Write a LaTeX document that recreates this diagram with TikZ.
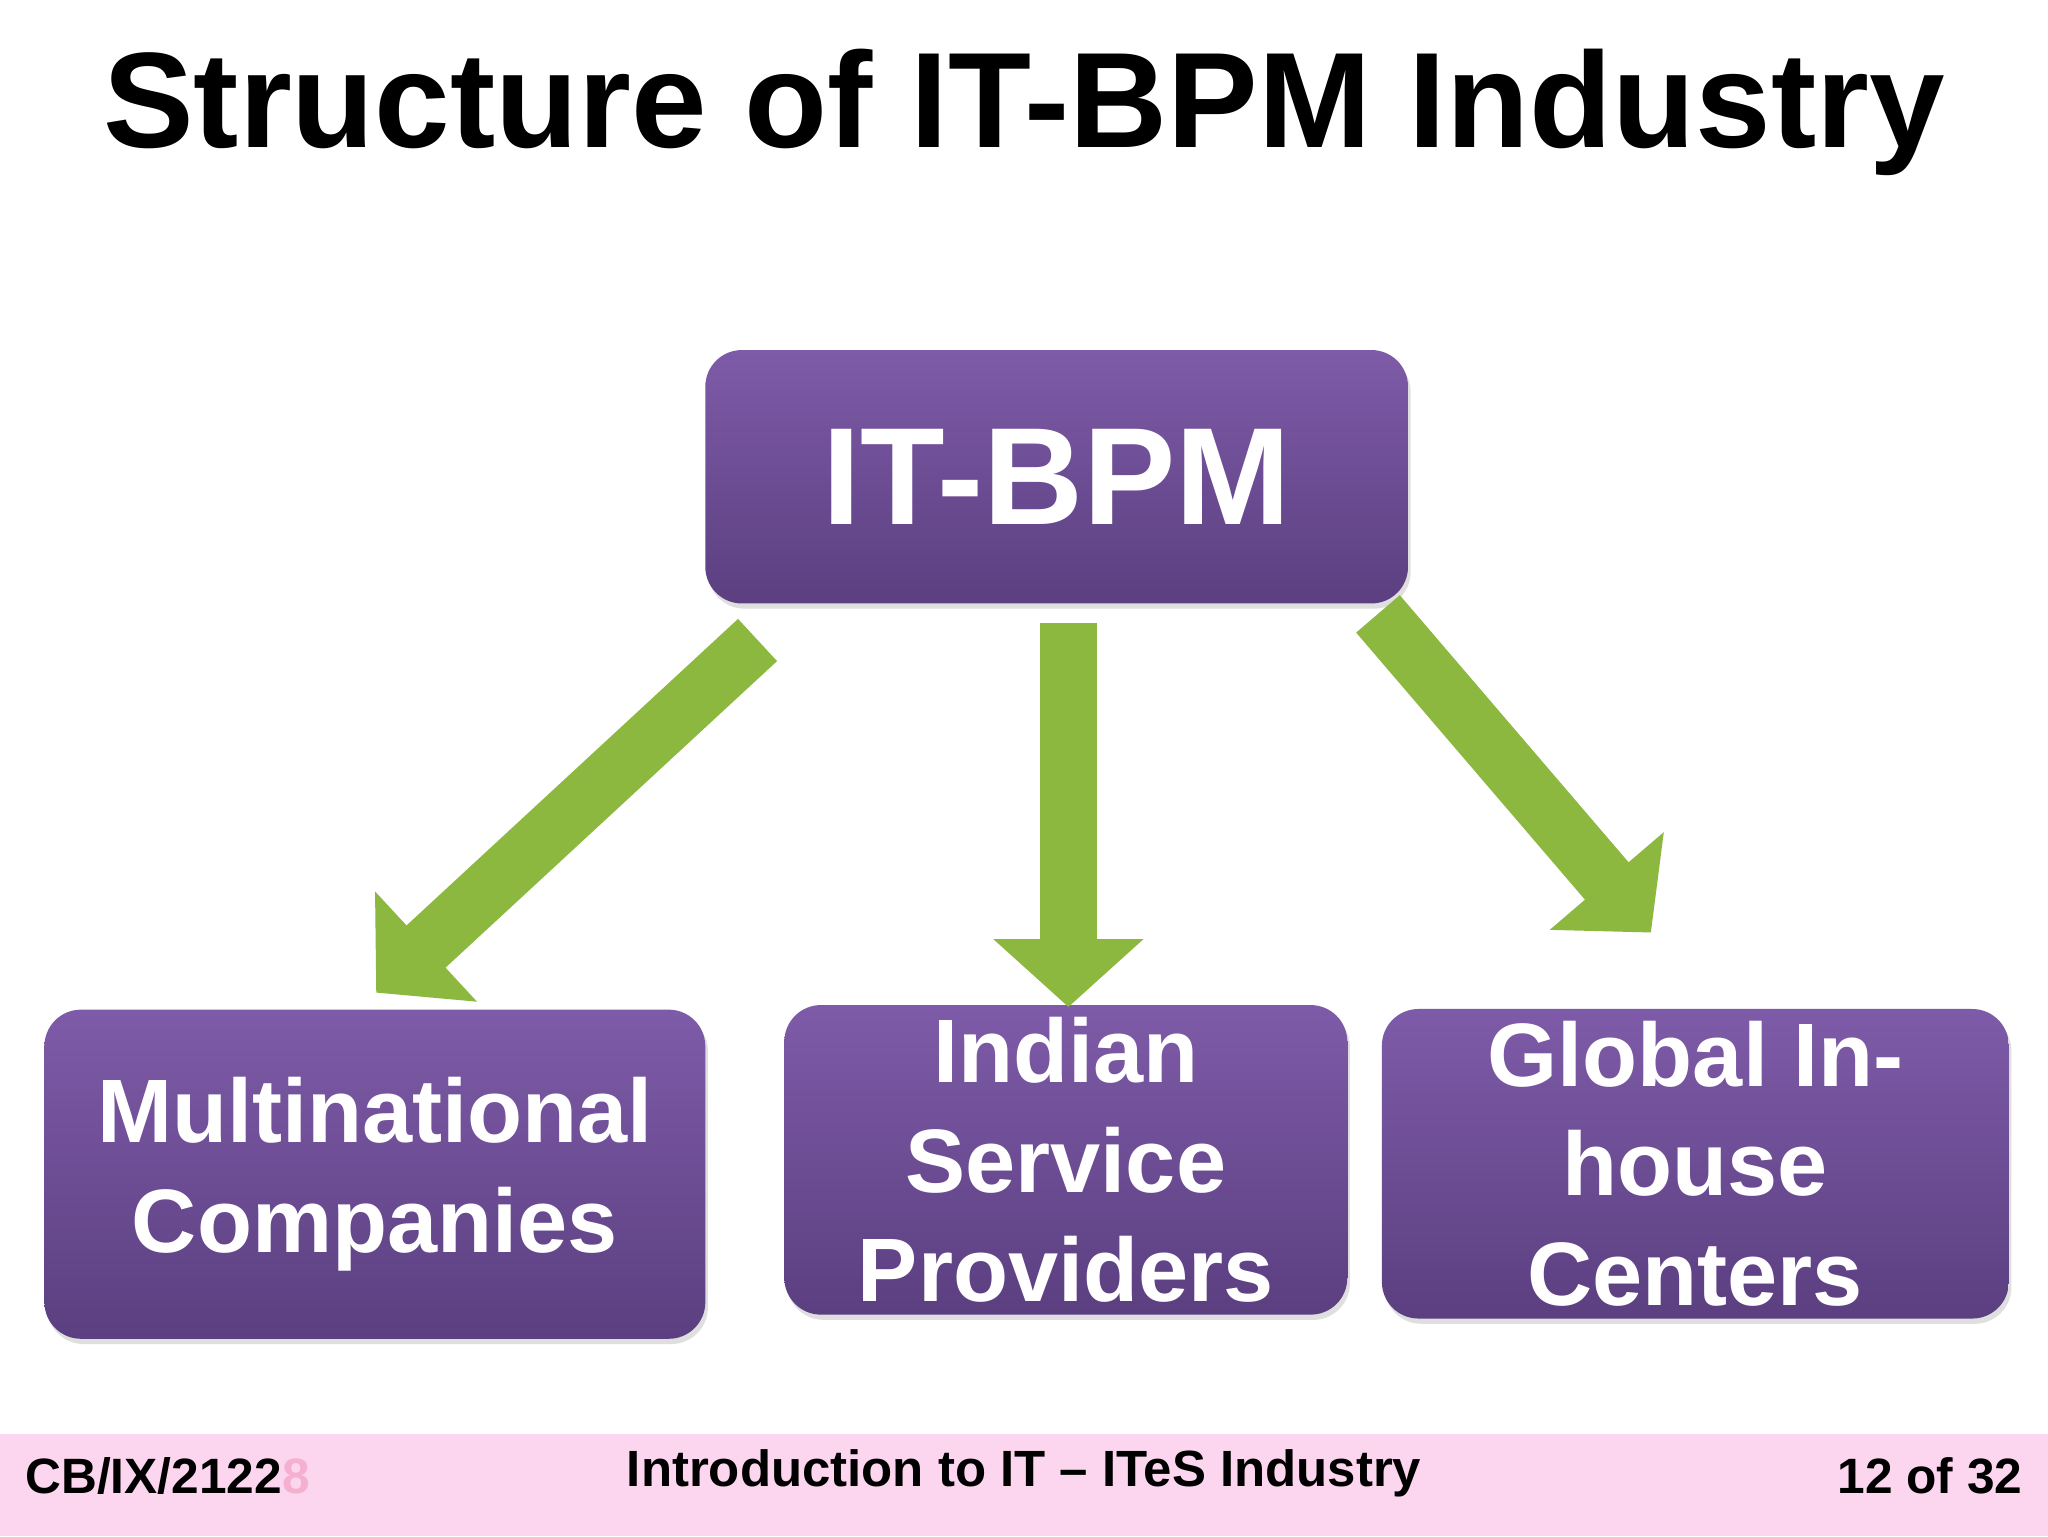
\documentclass[tikz,border=0pt]{standalone}
\usepackage{fontspec}
\setmainfont{Liberation Sans}
\usetikzlibrary{arrows.meta,shadows}
\definecolor{ptop}{HTML}{7E5BA8}
\definecolor{pbot}{HTML}{5B3F80}
\definecolor{grn}{HTML}{8CB840}
\definecolor{band}{HTML}{FBD6EE}
\definecolor{faint}{HTML}{F5B0D0}
\begin{document}
\begin{tikzpicture}[x=1pt,y=-1pt,
 pbox/.style={rounded corners=28pt,top color=ptop,bottom color=pbot,draw=none,
   drop shadow={opacity=0.25,shadow xshift=2pt,shadow yshift=-4pt},
   text=white,font=\bfseries,align=center,inner sep=0pt},
 btext/.style={font=\bfseries\fontsize{69}{84}\selectfont},
 garrow/.style={grn,line width=44pt,-{Triangle[width=112pt,length=52pt]}}]
\useasboundingbox (0,0) rectangle (1568,1176);
\fill[white] (0,0) rectangle (1568,1176);
\node[font=\bfseries\fontsize{104}{110}\selectfont] (title) at (784,86) {Structure of IT-BPM Industry};
\node[pbox,minimum width=538pt,minimum height=194pt,font=\bfseries\fontsize{106}{110}\selectfont] (top) at (809,365) {IT-BPM};
\node[pbox,btext,minimum width=506pt,minimum height=252pt] (mnc) at (287,899) {Multinational\\Companies};
\node[pbox,btext,minimum width=431pt,minimum height=237pt] (isp) at (816,888) {Indian\\Service\\Providers};
\node[pbox,btext,minimum width=480pt,minimum height=237pt] (gic) at (1298,891) {Global In-\\house\\Centers};
\coordinate (a1s) at (580,490); \coordinate (a1e) at (288,760);
\coordinate (a2s) at (818,477); \coordinate (a2e) at (818,771);
\coordinate (a3s) at (1055,470); \coordinate (a3e) at (1264,714);
\draw[garrow] (a1s) -- (a1e);
\draw[garrow] (a2s) -- (a2e);
\draw[garrow] (a3s) -- (a3e);
\fill[band] (0,1098) rectangle (1568,1176);
\node[anchor=west,font=\bfseries\fontsize{38}{40}\selectfont] (fl) at (16,1130) {CB/IX/2122\textcolor{faint}{8}};
\node[font=\bfseries\fontsize{39}{42}\selectfont] (fc) at (784,1128) {Introduction to IT – ITeS Industry};
\node[anchor=east,font=\bfseries\fontsize{38}{40}\selectfont] (fr) at (1552,1130) {12 of 32};
\end{tikzpicture}
\end{document}
